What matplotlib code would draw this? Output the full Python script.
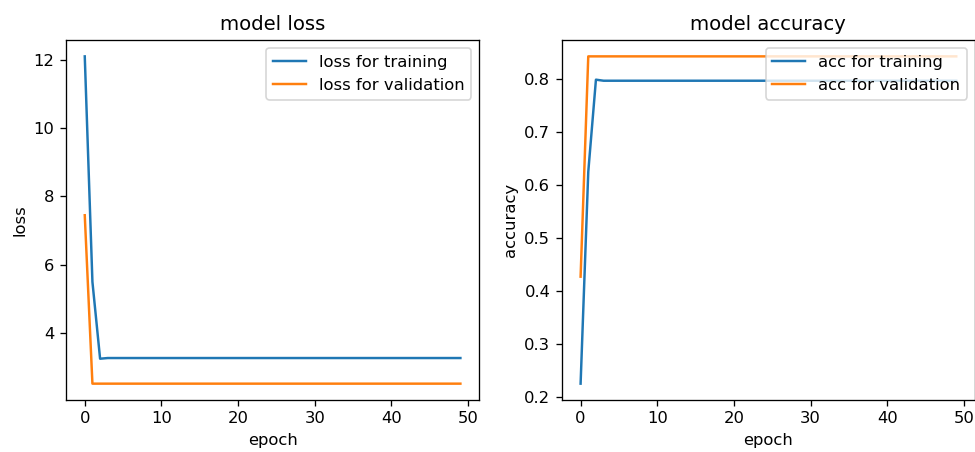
import matplotlib
matplotlib.use("Agg")
import matplotlib.pyplot as plt

epochs = list(range(50))

loss_train = [12.1, 5.5, 3.25, 3.27, 3.27, 3.27, 3.27, 3.27, 3.27, 3.27,
              3.27, 3.27, 3.27, 3.27, 3.27, 3.27, 3.27, 3.27, 3.27, 3.27,
              3.27, 3.27, 3.27, 3.27, 3.27, 3.27, 3.27, 3.27, 3.27, 3.27,
              3.27, 3.27, 3.27, 3.27, 3.27, 3.27, 3.27, 3.27, 3.27, 3.27,
              3.27, 3.27, 3.27, 3.27, 3.27, 3.27, 3.27, 3.27, 3.27, 3.27]
loss_val = [7.45, 2.52, 2.52, 2.52, 2.52, 2.52, 2.52, 2.52, 2.52, 2.52,
            2.52, 2.52, 2.52, 2.52, 2.52, 2.52, 2.52, 2.52, 2.52, 2.52,
            2.52, 2.52, 2.52, 2.52, 2.52, 2.52, 2.52, 2.52, 2.52, 2.52,
            2.52, 2.52, 2.52, 2.52, 2.52, 2.52, 2.52, 2.52, 2.52, 2.52,
            2.52, 2.52, 2.52, 2.52, 2.52, 2.52, 2.52, 2.52, 2.52, 2.52]

acc_train = [0.225, 0.625, 0.799, 0.797, 0.797, 0.797, 0.797, 0.797, 0.797, 0.797,
             0.797, 0.797, 0.797, 0.797, 0.797, 0.797, 0.797, 0.797, 0.797, 0.797,
             0.797, 0.797, 0.797, 0.797, 0.797, 0.797, 0.797, 0.797, 0.797, 0.797,
             0.797, 0.797, 0.797, 0.797, 0.797, 0.797, 0.797, 0.797, 0.797, 0.797,
             0.797, 0.797, 0.797, 0.797, 0.797, 0.797, 0.797, 0.797, 0.797, 0.797]
acc_val = [0.427, 0.843, 0.843, 0.843, 0.843, 0.843, 0.843, 0.843, 0.843, 0.843,
           0.843, 0.843, 0.843, 0.843, 0.843, 0.843, 0.843, 0.843, 0.843, 0.843,
           0.843, 0.843, 0.843, 0.843, 0.843, 0.843, 0.843, 0.843, 0.843, 0.843,
           0.843, 0.843, 0.843, 0.843, 0.843, 0.843, 0.843, 0.843, 0.843, 0.843,
           0.843, 0.843, 0.843, 0.843, 0.843, 0.843, 0.843, 0.843, 0.843, 0.843]

# the picture looks like a 100dpi figure blown up ~1.18x
DPI = 118
fig = plt.figure(figsize=(976 / DPI, 452 / DPI), dpi=DPI)

ax1 = fig.add_subplot(1, 2, 1)
ax1.plot(epochs, loss_train)
ax1.plot(epochs, loss_val)
ax1.set_title('model loss')
ax1.set_ylabel('loss')
ax1.set_xlabel('epoch')
ax1.legend(['loss for training', 'loss for validation'], loc='upper right')

ax2 = fig.add_subplot(1, 2, 2)
ax2.plot(epochs, acc_train)
ax2.plot(epochs, acc_val)
ax2.set_title('model accuracy')
ax2.set_ylabel('accuracy')
ax2.set_xlabel('epoch')
ax2.legend(['acc for training', 'acc for validation'], loc='upper right')

fig.subplots_adjust(left=0.0676, right=0.999, top=0.9115, bottom=0.115, wspace=0.2)
fig.savefig('out.png', dpi=DPI)
